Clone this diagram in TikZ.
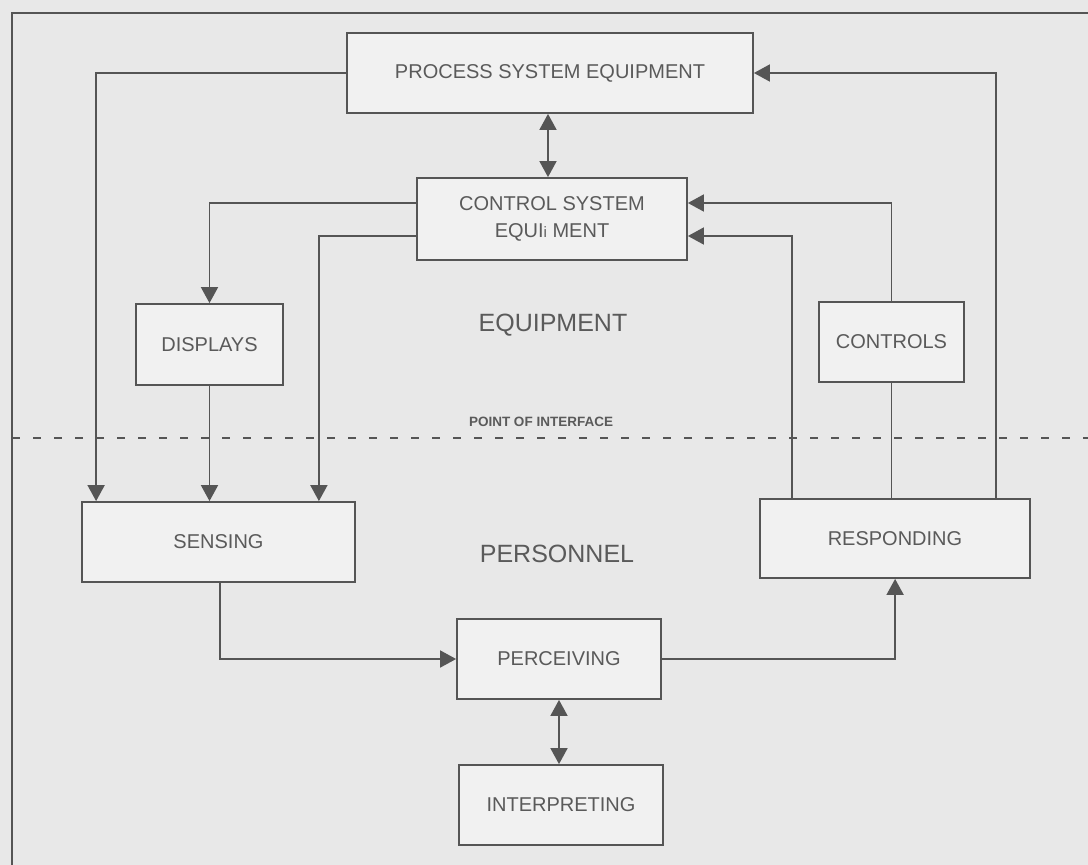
\documentclass[tikz,border=0pt]{standalone}
\usepackage{fontspec}
\setmainfont{Liberation Sans}
\usetikzlibrary{arrows.meta,calc}
\definecolor{bgc}{HTML}{E8E8E8}
\definecolor{boxc}{HTML}{F1F1F1}
\definecolor{linec}{HTML}{555555}
\definecolor{txtc}{HTML}{5A5A5A}
\tikzset{
  box/.style={draw=linec, line width=1.8pt, fill=boxc, text=txtc, align=center,
    font=\fontsize{20}{27}\selectfont, inner sep=0pt},
  conn/.style={draw=linec, line width=1.8pt},
  arr/.style={conn, -{Triangle[length=16pt,width=17pt]}},
  darr/.style={conn, {Triangle[length=16pt,width=17pt]}-{Triangle[length=16pt,width=17pt]}},
  biglabel/.style={text=txtc, font=\fontsize{25}{30}\selectfont},
}
\begin{document}
\begin{tikzpicture}[x=1pt,y=-1pt]
\fill[bgc] (0,0) rectangle (1088,865);
\useasboundingbox (0,0) rectangle (1088,865);
% outer frame
\coordinate (fbl) at (12,865);
\coordinate (ftl) at (12,13);
\coordinate (ftr) at (1088,13);
\draw[conn] (fbl) -- (ftl) -- (ftr);

% boxes
\node[box, minimum width=406pt, minimum height=80pt] (pse) at (550,73) {PROCESS SYSTEM EQUIPMENT};
\node[box, minimum width=270pt, minimum height=82pt] (cse) at (552,219) {CONTROL SYSTEM\\EQUI{\fontsize{15}{15}\selectfont i} MENT};
\node[box, minimum width=147pt, minimum height=81pt] (disp) at (209.5,344.5) {DISPLAYS};
\node[box, minimum width=145pt, minimum height=80pt] (ctrl) at (891.5,342) {CONTROLS};
\node[box, minimum width=273pt, minimum height=80pt] (sens) at (218.5,542) {SENSING};
\node[box, minimum width=270pt, minimum height=79pt] (resp) at (895,538.5) {RESPONDING};
\node[box, minimum width=204pt, minimum height=80pt] (perc) at (559,659) {PERCEIVING};
\node[box, minimum width=204pt, minimum height=80pt] (interp) at (561,805) {INTERPRETING};

% labels
\node[biglabel] (equip) at (553,325) {EQUIPMENT};
\node[biglabel] (pers) at (557,554) {PERSONNEL};
\node[text=txtc, font=\bfseries\fontsize{13.5}{13.5}\selectfont] (poi) at (541,422) {POINT OF INTERFACE};

% interface line
\coordinate (dl) at (12,438);
\coordinate (dr) at (1088,438);
\draw[conn, line width=1.6pt, dash pattern=on 8pt off 13pt] (dl) -- (dr);

% connectors
\draw[arr] (pse.west) -| ($(sens.north west)+(15,0)$);
\draw[arr] ($(resp.north east)+(-35,0)$) |- (pse.east);
\draw[darr] ($(pse.south)+(-2,0)$) -- ($(cse.north)+(-4,0)$);
\draw[arr] ($(cse.west)+(0,-16)$) -| (disp.north);
\draw[arr] ($(cse.west)+(0,17)$) -| ($(sens.north east)+(-37,0)$);
\draw[arr] (disp.south) -- (disp.south |- sens.north);
\draw[arr] (ctrl.north) |- ($(cse.east)+(0,-16)$);
\draw[arr] ($(resp.north west)+(33,0)$) |- ($(cse.east)+(0,17)$);
\draw[conn] (ctrl.south) -- (ctrl.south |- resp.north);
\draw[arr] ($(sens.south west)+(139,0)$) |- (perc.west);
\draw[arr] (perc.east) -| ($(resp.south west)+(136,0)$);
\draw[darr] (perc.south) -- (perc.south |- interp.north);
\end{tikzpicture}
\end{document}
